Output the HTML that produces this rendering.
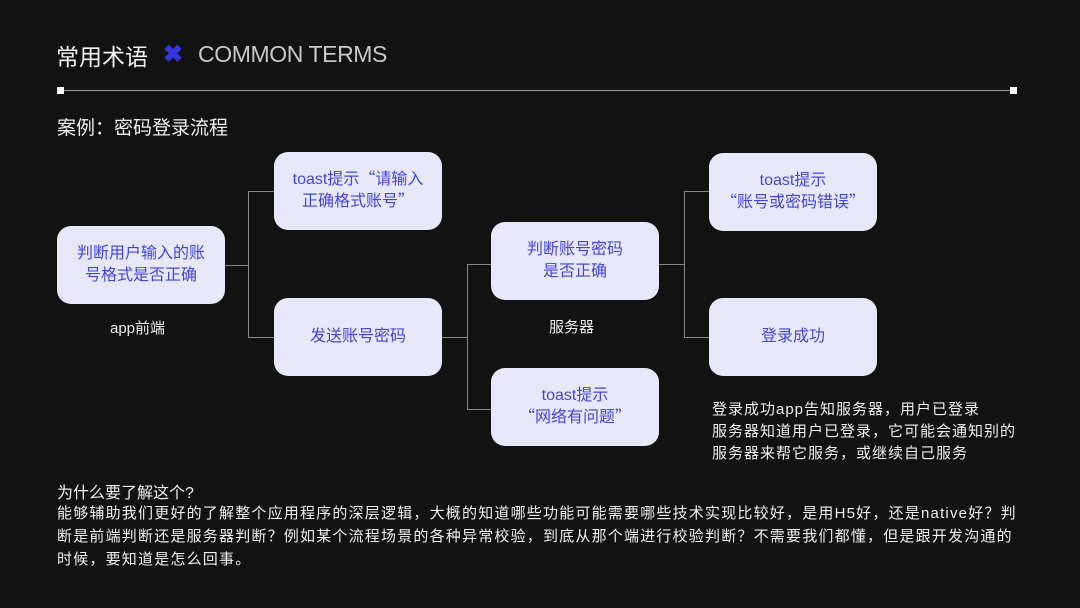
<!DOCTYPE html>
<html><head><meta charset="utf-8"><style>
body{margin:0;width:1080px;height:608px;background:#121212;position:relative;overflow:hidden;font-family:"Liberation Sans","Noto Sans CJK SC",sans-serif;color:#eee}
.a{position:absolute;white-space:nowrap}
.q{font-family:"Noto Sans CJK SC",sans-serif;line-height:0}
.box{position:absolute;width:168px;height:78px;background:#e8e8fb;border-radius:14px;color:#4444e0;font-size:16px;line-height:22px;display:flex;align-items:center;justify-content:center;text-align:center}
.l{position:absolute;background:#888}
</style></head><body>
<div class="a" style="left:56px;top:38px;font-size:23px;color:#f2f2f2">常用术语</div>
<div class="a" style="left:163px;top:40px;font-size:24px;color:#3535e0;font-weight:bold">✖</div>
<div class="a" style="left:198px;top:41px;font-size:23px;color:#c8c8c8;letter-spacing:-0.4px">COMMON TERMS</div>
<div class="l" style="left:60px;top:90px;width:953px;height:1px;background:#999"></div>
<div class="a" style="left:57px;top:87px;width:7px;height:7px;background:#fff"></div>
<div class="a" style="left:1010px;top:87px;width:7px;height:7px;background:#fff"></div>
<div class="a" style="left:57px;top:113px;font-size:19px;color:#eee">案例：密码登录流程</div>

<div class="box" style="left:57px;top:226px">判断用户输入的账<br>号格式是否正确</div>
<div class="box" style="left:274px;top:152px"><span>toast提示<span class="q">“</span>请输入<br>正确格式账号<span class="q">”</span></span></div>
<div class="box" style="left:274px;top:298px">发送账号密码</div>
<div class="box" style="left:491px;top:222px">判断账号密码<br>是否正确</div>
<div class="box" style="left:491px;top:368px"><span>toast提示<br><span class="q">“</span>网络有问题<span class="q">”</span></span></div>
<div class="box" style="left:709px;top:153px"><span>toast提示<br><span class="q">“</span>账号或密码错误<span class="q">”</span></span></div>
<div class="box" style="left:709px;top:298px">登录成功</div>

<div class="l" style="left:225px;top:265px;width:23px;height:1px"></div>
<div class="l" style="left:248px;top:191px;width:1px;height:147px"></div>
<div class="l" style="left:248px;top:191px;width:26px;height:1px"></div>
<div class="l" style="left:248px;top:337px;width:26px;height:1px"></div>

<div class="l" style="left:442px;top:337px;width:25px;height:1px"></div>
<div class="l" style="left:467px;top:264px;width:1px;height:146px"></div>
<div class="l" style="left:467px;top:264px;width:24px;height:1px"></div>
<div class="l" style="left:467px;top:409px;width:24px;height:1px"></div>

<div class="l" style="left:659px;top:264px;width:25px;height:1px"></div>
<div class="l" style="left:684px;top:191px;width:1px;height:147px"></div>
<div class="l" style="left:684px;top:191px;width:25px;height:1px"></div>
<div class="l" style="left:684px;top:337px;width:25px;height:1px"></div>

<div class="a" style="left:110px;top:317px;font-size:15px">app前端</div>
<div class="a" style="left:549px;top:316px;font-size:15px">服务器</div>
<div class="a" style="left:712px;top:399px;font-size:15px;line-height:22px;letter-spacing:1px">登录成功app告知服务器，用户已登录<br>服务器知道用户已登录，它可能会通知别的<br>服务器来帮它服务，或继续自己服务</div>

<div class="a" style="left:57px;top:479px;font-size:16px">为什么要了解这个?</div>
<div class="a" style="left:57px;top:502px;font-size:15px;line-height:23px;letter-spacing:1.2px">能够辅助我们更好的了解整个应用程序的深层逻辑，大概的知道哪些功能可能需要哪些技术实现比较好，是用H5好，还是native好？判<br>断是前端判断还是服务器判断？例如某个流程场景的各种异常校验，到底从那个端进行校验判断？不需要我们都懂，但是跟开发沟通的<br>时候，要知道是怎么回事。</div>
</body></html>
